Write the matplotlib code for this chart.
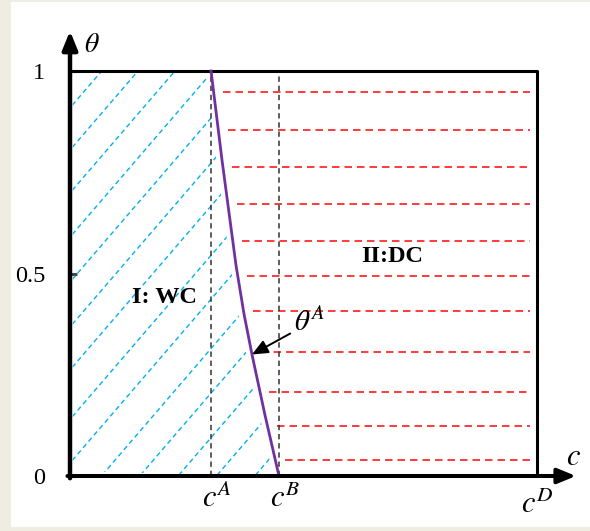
import numpy as np
import matplotlib
matplotlib.use("Agg")
from matplotlib import pyplot as plt
from matplotlib.patches import Polygon, Rectangle

plt.rcParams['font.family'] = ['Liberation Serif', 'DejaVu Serif']
plt.rcParams['mathtext.fontset'] = 'stix'

# thresholds on the c axis (c^D scaled to 1)
c_A = 0.302
c_B = 0.4475
c_D = 1.0

# boundary theta^A between region I and region II
curve_theta = [0.0, 0.15, 0.30, 0.40, 0.52, 0.65, 0.78, 1.0]
curve_c = [0.4475, 0.4176, 0.3897, 0.3726, 0.3555, 0.3405, 0.3255, 0.302]

# dashed red lines of region II (theta levels)
red_theta = [0.040, 0.123, 0.207, 0.306, 0.407, 0.494, 0.580, 0.672, 0.763, 0.854, 0.948]

# cyan hatch of region I (theta where each line crosses c = 0)
hatch_theta0 = [0.909, 0.805, 0.699, 0.590, 0.479, 0.368, 0.262, 0.140, 0.032,
                -0.09, -0.20, -0.31, -0.42, -0.53, -0.64]
hatch_slope = 1.34

yticks = [0, 0.5, 1]
ytick_labels = ['0', '0.5', '1']

fig = plt.figure(figsize=(5.9, 5.31), dpi=100, facecolor='#EFECE2')
fig.add_artist(Rectangle((11 / 590, 4 / 531), 1, 525 / 531, transform=fig.transFigure,
                         facecolor='white', edgecolor='none', zorder=0))
ax = fig.add_axes([70 / 590, 55 / 531, 506 / 590, 445 / 531])
ax.set_xlim(0, 506 / 467)
ax.set_ylim(0, 445 / 405)
for s in ax.spines.values():
    s.set_visible(False)

# region I hatch, clipped left of the boundary
verts = [(0.006, 0.012), (0.006, 1.0)]
verts += [(c - 0.012, t) for c, t in zip(curve_c[::-1], curve_theta[::-1])]
clip = Polygon(verts, closed=True, transform=ax.transData)
cc = np.array([-0.1, 0.7])
for t0 in hatch_theta0:
    ln, = ax.plot(cc, t0 + hatch_slope * cc, color='#00B0F0', lw=1.0,
                  linestyle=(0, (3.5, 2.5)))
    ln.set_clip_path(clip)

# region II dashes
for t in red_theta:
    start = np.interp(t, curve_theta, curve_c) + 0.02
    ax.plot([start, 0.985], [t, t], color='#FF1A1A', lw=1.2, linestyle=(0, (4.5, 3)))

# c^A and c^B guides
ax.plot([c_A, c_A], [0, 1], color='#333333', lw=1.1, linestyle=(0, (3.5, 2.5)))
ax.plot([c_B, c_B], [0, 1], color='#333333', lw=1.1, linestyle=(0, (3.5, 2.5)))

# box top and right side
ax.plot([0, c_D, c_D], [1, 1, 0], color='black', lw=2.2, solid_capstyle='projecting')

# boundary curve
ax.plot(curve_c, curve_theta, color='#7030A0', lw=2.0)

# axes with arrows
ax.annotate('', xy=(0, 1), xytext=(0, -0.005), xycoords='axes fraction',
            arrowprops=dict(arrowstyle='-|>,head_length=1.1,head_width=0.45', mutation_scale=10,
                            lw=3.2, color='black', shrinkA=0, shrinkB=0))
ax.annotate('', xy=(1, 0), xytext=(-0.005, 0), xycoords='axes fraction',
            arrowprops=dict(arrowstyle='-|>,head_length=1.1,head_width=0.45', mutation_scale=10,
                            lw=2.9, color='black', shrinkA=0, shrinkB=0))

ax.set_xticks([])
ax.set_yticks(yticks, ytick_labels)
ax.tick_params(axis='y', direction='in', length=5, width=2.2, color='#444444', pad=18,
               labelsize=17.5)

ax.text(0.047, 1.062, r'$\theta$', fontsize=20, ha='center', va='center')
ax.text(1.079, 0.045, r'$c$', fontsize=22, ha='center', va='center')
ax.text(c_A + 0.012, -0.058, r'$c^A$', fontsize=22, ha='center', va='center')
ax.text(c_B + 0.014, -0.056, r'$c^B$', fontsize=22, ha='center', va='center')
ax.text(c_D, -0.072, r'$c^D$', fontsize=22, ha='center', va='center')

ax.text(0.203, 0.44, 'I: WC', fontsize=17.5, fontweight='bold', ha='center', va='center')
ax.text(0.690, 0.543, 'II:DC', fontsize=17.5, fontweight='bold', ha='center', va='center')

ax.annotate(r'$\theta^A$', xy=(curve_c[2], curve_theta[2]), xytext=(0.48, 0.378),
            fontsize=21, ha='left', va='center',
            arrowprops=dict(arrowstyle='-|>,head_length=0.8,head_width=0.35', mutation_scale=12,
                            lw=1.4, color='black', shrinkA=1, shrinkB=0))

fig.savefig('out.png', dpi=100, facecolor=fig.get_facecolor())
